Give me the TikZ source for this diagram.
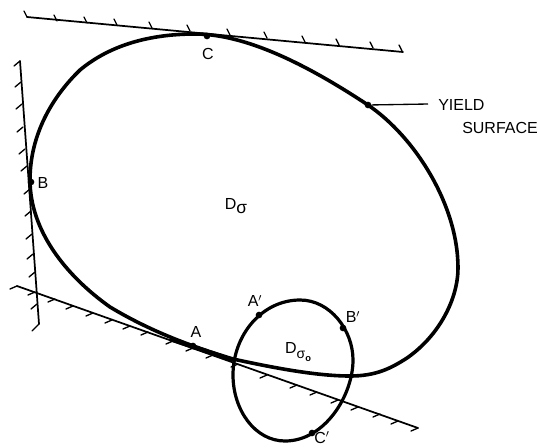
\documentclass[tikz,border=0pt]{standalone}
\usepackage{fontspec}
\setmainfont{Liberation Sans}
\usetikzlibrary{arrows.meta}
\tikzset{
  surface/.style={line width=2.7pt,line join=round},
  limitline/.style={line width=1.3pt,line cap=round},
  tick/.style={line width=1.0pt,line cap=round},
  mark dot/.style={circle,fill=black,inner sep=0pt,minimum size=5pt},
  lab/.style={inner sep=0pt,font=\fontsize{12}{13}\selectfont},
  caption/.style={inner sep=0pt,anchor=west,font=\fontsize{12}{13}\selectfont},
}
\newcommand{\subs}[2]{\raisebox{-3.5pt}{\fontsize{#1}{#1}\selectfont #2}}
\begin{document}
\begin{tikzpicture}[x=0.75pt,y=-0.75pt]
\useasboundingbox (0,0) rectangle (538,447);
% limit lines
\draw[limitline] (27,17) -- (403,52);
\draw[limitline] (20,61) -- (39,324);
\draw[limitline] (17,286) -- (418,428);
% ticks of top line
\foreach \x/\y in {27/17,57/21,87/23,117/25,152/28,190/31,230/35,267/38,305/42,339/45,373/48,402/51}
  \draw[tick] (\x,\y) -- ++(-3,-6);
% ticks of left line
\foreach \x/\y in {20/61,21/82,22/104,23/127,25/149,27/166,30/189,31/211,32/234,33/254,35/272,37/304}
  \draw[tick] (\x,\y) -- ++(-6,5);
\draw[tick] (39,324) -- ++(-7,7);
% ticks of bottom line
\foreach \x/\y in {17/286,35/292,55/299,73/306,93/313,112/320,130/326,148/332,173/341,193/348,213/355,238/364,267/375,297/385,317/392,338/400,358/407,380/414,398/421,418/428}
  \draw[tick] (\x,\y) -- ++(-7,3);
% yield surface
\draw[surface] (195,34)
  .. controls (250,34) and (315,70) .. (368,105)
  .. controls (415,137) and (458,205) .. (458,268)
  .. controls (458,298) and (440,335) .. (407,358)
  .. controls (390,369) and (375,376) .. (350,376)
  .. controls (315,376) and (270,367) .. (233,359)
  .. controls (190,346) and (150,331) .. (110,307)
  .. controls (65,275) and (30,230) .. (30,180)
  .. controls (30,135) and (52,97) .. (80,70)
  .. controls (110,45) and (150,34) .. (195,34) -- cycle;
% small surface
\draw[line width=2.4pt] (300,300)
  .. controls (330,300) and (353,330) .. (353,360)
  .. controls (353,395) and (325,441) .. (285,441)
  .. controls (255,441) and (233,410) .. (233,375)
  .. controls (233,335) and (262,300) .. (300,300) -- cycle;
% thickened tangency
\draw[line width=3.2pt] (170,339) -- (233,360);
% marks
\node[mark dot] (mC) at (207,36) {};
\node[mark dot] (mB) at (31,182) {};
\node[mark dot] (mA) at (193,346) {};
\node[mark dot] (mA1) at (259,315) {};
\node[mark dot] (mB1) at (343,328) {};
\node[mark dot] (mC1) at (312,433) {};
\node[mark dot] (mY) at (368,105) {};
% labels
\node[lab] (lC) at (208,54) {C};
\node[lab] (lB) at (43,183) {B};
\node[lab] (lA) at (196,332) {A};
\node[lab] (lA1) at (255,301) {A$'$};
\node[lab] (lB1) at (353,317) {B$'$};
\node[lab] (lC1) at (322,438) {C$'$};
\node[lab] (lD) at (236,206) {D\subs{13}{σ}};
\node[lab] (lD0) at (298,352) {D\subs{10.5}{σ}\raisebox{-6pt}{\fontsize{7}{7}\selectfont\bfseries o}};
\node[caption] (yield) at (438,105) {YIELD};
\node[caption] (surf) at (462,128) {SURFACE};
\draw[line width=1pt] (428,104) -- (mY);
\end{tikzpicture}
\end{document}
